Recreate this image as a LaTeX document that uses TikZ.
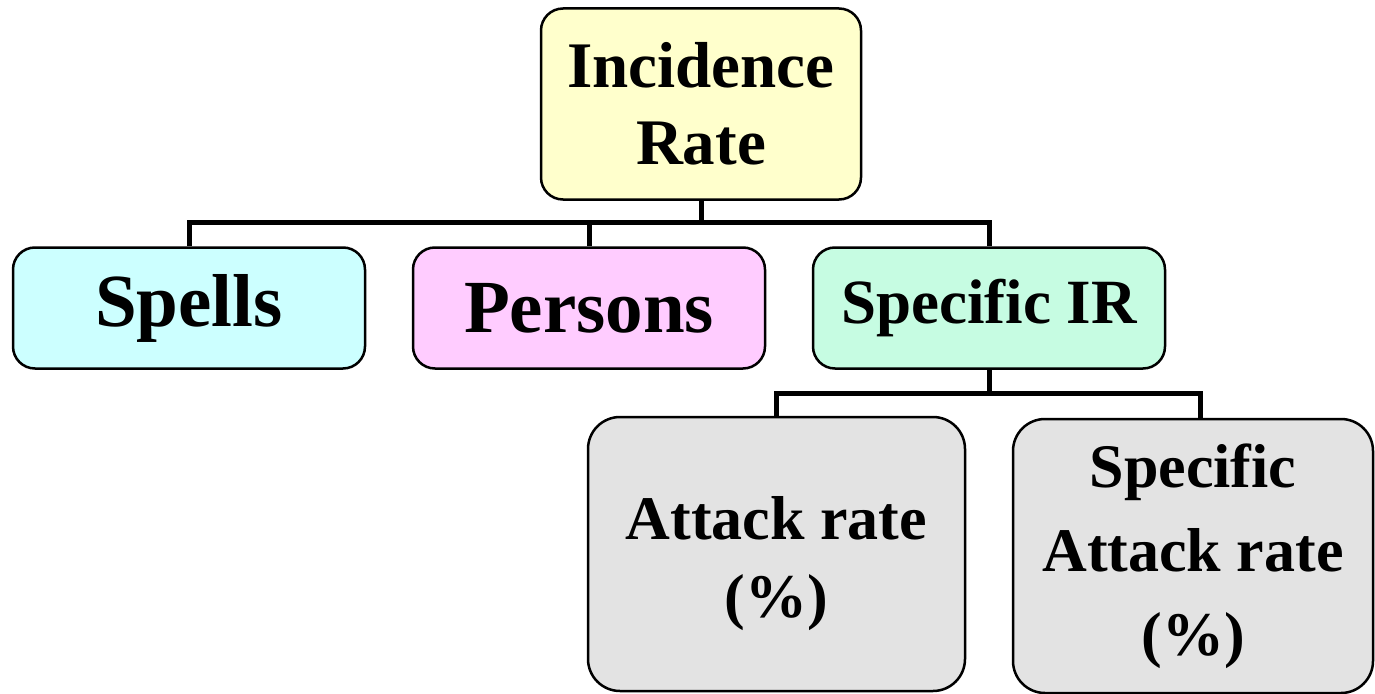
\documentclass[tikz,border=0pt]{standalone}
\usepackage{fontspec}
\setmainfont{Liberation Serif}
\usetikzlibrary{positioning}

\definecolor{rateyellow}{HTML}{FFFFCC}
\definecolor{spellcyan}{HTML}{CCFFFF}
\definecolor{personpink}{HTML}{FFCCFF}
\definecolor{specmint}{HTML}{C6FCE2}
\definecolor{attackgray}{HTML}{E3E3E3}

\begin{document}
\begin{tikzpicture}[
  x=1pt, y=-1pt,
  box/.style={
    rectangle,
    rounded corners=22pt,
    line width=2.5pt,
    draw=black,
    align=center,
    inner sep=0pt,
    font=\bfseries
  },
  toprow/.style={
    box,
    minimum width=352pt,
    minimum height=121pt
  },
  leafbox/.style={
    box,
    rounded corners=32pt,
    minimum height=274pt
  },
  wire/.style={
    line width=5pt
  }]
  \useasboundingbox (0,0) rectangle (1375,693);
  % root
  \node [box, fill=rateyellow, minimum width=320pt, minimum height=191pt,
    font=\bfseries\fontsize{65}{77}\selectfont] (incid) at (701,104) {Incidence\\Rate};
  % level 1
  \node [toprow, fill=spellcyan, font=\bfseries\fontsize{75}{80}\selectfont] (spells) at (189,308) {Spells};
  \node [toprow, fill=personpink, font=\bfseries\fontsize{75}{80}\selectfont] (persons) at (589,308) {Persons};
  \node [toprow, fill=specmint, font=\bfseries\fontsize{63}{70}\selectfont] (specir) at (989,308) {Specific IR};
  % level 2
  \node [leafbox, fill=attackgray, minimum width=377pt,
    label={[align=center, yshift=-10pt, font=\bfseries\fontsize{62}{78}\selectfont]center:Attack rate\\(\%)}] (attack) at (776.5,554) {};
  \node [leafbox, fill=attackgray, minimum width=360pt,
    font=\bfseries\fontsize{62}{84}\selectfont] (specatt) at (1193,556) {Specific\\Attack rate\\(\%)};
  % busses
  \coordinate (bus1) at (701,222);
  \coordinate (bus2) at (989,393);
  \begin{scope}
  \draw [wire] (incid.south) -- (bus1);
  \draw [wire] (spells.north) |- (bus1);
  \draw [wire] (persons.north) |- (bus1);
  \draw [wire] (specir.north) |- (bus1);
  \draw [wire] (specir.south) -- (bus2);
  \draw [wire] (attack.north) |- (bus2);
  \draw [wire] ([xshift=7pt]specatt.north) |- (bus2);
  \end{scope}
\end{tikzpicture}
\end{document}
